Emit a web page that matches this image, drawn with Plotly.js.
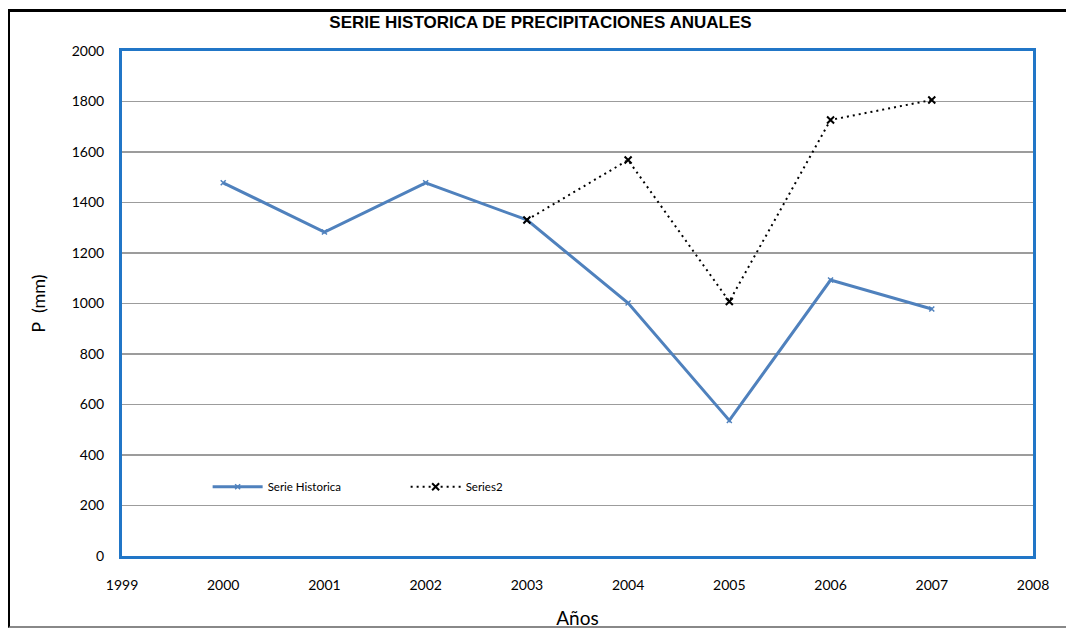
<!DOCTYPE html>
<html>
<head>
<meta charset="utf-8">
<script src="https://cdn.plot.ly/plotly-3.0.1.min.js"></script>
<style>
  html, body { margin: 0; padding: 0; background: #fff; }
  #wrap { position: relative; width: 1066px; height: 629px; }
  #chart { width: 1066px; height: 629px; }
  #frame { position: absolute; left: 8px; top: 9px; width: 1070px; height: 619px;
           border-top: 3px solid #000; border-left: 2px solid #000; border-bottom: 2px solid #888;
           pointer-events: none; box-sizing: border-box; }
</style>
</head>
<body>
<div id="wrap">
  <div id="chart"></div>
  <div id="frame"></div>
</div>
<script>
const years = [2000, 2001, 2002, 2003, 2004, 2005, 2006, 2007];
const serieHistorica = [1478, 1283, 1478, 1331, 1002, 537, 1093, 978];
const series2Years = [2003, 2004, 2005, 2006, 2007];
const series2 = [1331, 1568, 1008, 1727, 1806];
const yTicks = [0, 200, 400, 600, 800, 1000, 1200, 1400, 1600, 1800, 2000];
const xTicks = [1999, 2000, 2001, 2002, 2003, 2004, 2005, 2006, 2007, 2008];

const tickFont = { family: 'Lato, "Open Sans", sans-serif', size: 14, color: '#000' };

const traces = [
  {
    x: years, y: serieHistorica, name: 'Serie Historica', type: 'scatter', mode: 'lines+markers',
    line: { color: '#4F81BD', width: 3 },
    marker: { symbol: 'x-thin', size: 5, color: '#4F81BD', line: { color: '#4F81BD', width: 1.5 } }
  },
  {
    x: series2Years, y: series2, name: 'Series2', type: 'scatter', mode: 'lines+markers',
    line: { color: '#000', width: 2, dash: '2px,4px' },
    marker: { symbol: 'x-thin', size: 7, color: '#000', line: { color: '#000', width: 2 } }
  }
];

const layout = {
  width: 1066, height: 629,
  margin: { l: 122, r: 33, t: 51, b: 73 },
  paper_bgcolor: '#fff', plot_bgcolor: '#fff',
  title: {
    text: '<b>SERIE HISTORICA DE PRECIPITACIONES ANUALES</b>',
    font: { family: '"Liberation Sans", Arial, sans-serif', size: 17, color: '#000' },
    x: 0.507, xref: 'container', xanchor: 'center',
    y: 1 - 22 / 629, yref: 'container', yanchor: 'middle'
  },
  xaxis: {
    range: [1999, 2008], tickvals: xTicks, ticktext: xTicks.map(String),
    showgrid: false, zeroline: false,
    showline: true, mirror: true, linecolor: '#2176C7', linewidth: 3,
    ticks: '', ticklabelstandoff: 14,
    tickfont: tickFont,
    title: { text: 'Años', font: { family: 'Lato, "Open Sans", sans-serif', size: 19, color: '#000' }, standoff: 22 }
  },
  yaxis: {
    range: [0, 2000], tickvals: yTicks, ticktext: yTicks.map(String),
    showgrid: true, gridcolor: '#9C9C9C', gridwidth: 1.5, zeroline: false,
    showline: true, mirror: true, linecolor: '#2176C7', linewidth: 3,
    ticks: '', ticklabelstandoff: 12,
    tickfont: tickFont,
    title: { text: 'P  (mm)', font: { family: 'Lato, "Open Sans", sans-serif', size: 18, color: '#000' }, standoff: 22 }
  },
  legend: {
    orientation: 'h', x: 0.094, xanchor: 'left', y: 0.137, yanchor: 'middle',
    bgcolor: 'rgba(0,0,0,0)',
    font: { family: 'Lato, "Open Sans", sans-serif', size: 11.5, color: '#000' },
    entrywidth: 133, entrywidthmode: 'pixels', itemwidth: 50
  },
  showlegend: true
};

Plotly.newPlot('chart', traces, layout, { displayModeBar: false, staticPlot: true });
</script>
</body>
</html>
